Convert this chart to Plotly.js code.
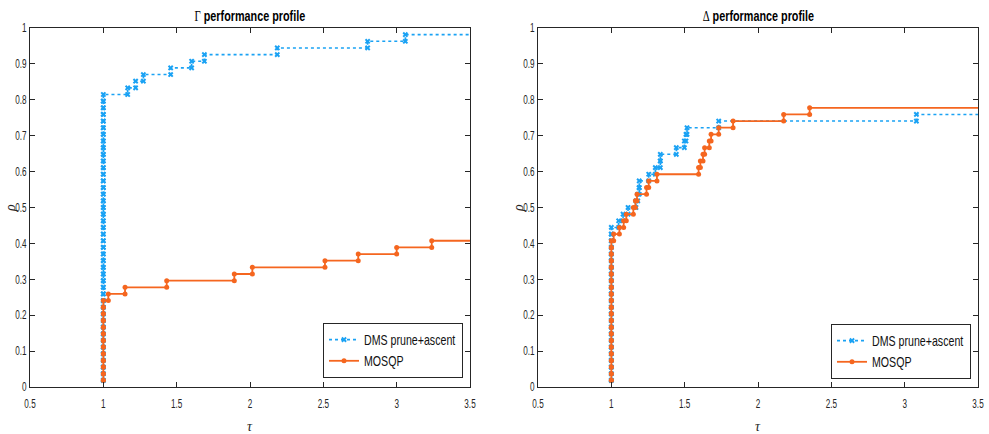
<!DOCTYPE html>
<html>
<head>
<meta charset="utf-8">
<script src="https://cdn.plot.ly/plotly-3.0.1.min.js"></script>
<style>
html,body{margin:0;padding:0;background:#fff;}
#chart{width:989px;height:434px;}
/* narrow (Helvetica-Narrow-like) legend text of the original */
#chart text.legendtext, #chart text.legend2text{transform-box:fill-box;transform-origin:0 50%;transform:scaleX(0.76);}
#chart g.legend rect.bg, #chart g.legend2 rect.bg{width:139px;}
</style>
</head>
<body>
<div id="chart"></div>
<script>
// ---------------- data ----------------
const nProblems = 54;
const seriesNames = ["DMS prune+ascent", "MOSQP"];
const panelTitles = ["Γ", "Δ"];
const xTicks = [0.5, 1, 1.5, 2, 2.5, 3, 3.5];
const yTicks = [0, 0.1, 0.2, 0.3, 0.4, 0.5, 0.6, 0.7, 0.8, 0.9, 1];
const tauEnd = 4; // right end of the last step (beyond the axis limit)

// Gamma profile: number of problems with ratio 1, then remaining sorted ratios <= 3.5
const gammaDmsAtOne = 44;
const gammaDmsRatios = [1.166, 1.220, 1.273, 1.459, 1.602, 1.689, 2.186, 2.802, 3.059];
const gammaMosqpAtOne = 13;
const gammaMosqpRatios = [1.034, 1.148, 1.432, 1.893, 2.016, 2.511, 2.738, 3.000, 3.239];

// Delta profile
const deltaDmsAtOne = 24;
const deltaDmsRatios = [1.050, 1.080, 1.114, 1.168, 1.180, 1.190, 1.190, 1.255, 1.300, 1.334, 1.334,
                        1.443, 1.498, 1.509, 1.516, 1.732, 3.080];
const deltaMosqpAtOne = 22;
const deltaMosqpRatios = [1.016, 1.055, 1.084, 1.102, 1.150, 1.164, 1.175, 1.240, 1.255, 1.311,
                          1.595, 1.607, 1.625, 1.636, 1.668, 1.680, 1.732, 1.830, 2.175, 2.352];

// ---------------- build stairs ----------------
function stairs(atOne, ratios) {
  const r = [];
  for (let i = 0; i < atOne; i++) r.push(1);
  ratios.forEach(v => r.push(v));
  const xs = [], ys = [];
  for (let i = 0; i < r.length; i++) {
    const y = (i + 1) / nProblems;
    xs.push(r[i]); ys.push(y);
    xs.push(i + 1 < r.length ? r[i + 1] : tauEnd); ys.push(y);
  }
  return {x: xs, y: ys};
}

const blue = '#1aa2f4';
const orange = '#f5661f';
const font = 'Liberation Sans, Arial, sans-serif';

function dmsTrace(d, xa, ya, lg) {
  return {x: d.x, y: d.y, xaxis: xa, yaxis: ya, type: 'scatter', mode: 'lines+markers',
    name: seriesNames[0], legend: lg, cliponaxis: true,
    line: {color: blue, width: 1.6, dash: 'dot'},
    marker: {symbol: 'x', size: 5, color: blue}};
}
function mosTrace(d, xa, ya, lg) {
  return {x: d.x, y: d.y, xaxis: xa, yaxis: ya, type: 'scatter', mode: 'lines+markers',
    name: seriesNames[1], legend: lg, cliponaxis: true,
    line: {color: orange, width: 1.8},
    marker: {symbol: 'circle', size: 5, color: orange}};
}

const traces = [
  dmsTrace(stairs(gammaDmsAtOne, gammaDmsRatios), 'x', 'y', 'legend'),
  mosTrace(stairs(gammaMosqpAtOne, gammaMosqpRatios), 'x', 'y', 'legend'),
  dmsTrace(stairs(deltaDmsAtOne, deltaDmsRatios), 'x2', 'y2', 'legend2'),
  mosTrace(stairs(deltaMosqpAtOne, deltaMosqpRatios), 'x2', 'y2', 'legend2')
];

function xaxis(dom, anchor) {
  return {domain: dom, anchor: anchor, range: [0.5, 3.5], tickvals: xTicks,
    ticktext: xTicks.map(String), ticks: 'inside', ticklen: 5, tickcolor: '#262626',
    showline: true, linecolor: '#262626', linewidth: 1, mirror: 'ticks', showgrid: false,
    zeroline: false, ticklabelstandoff: 6, tickfont: {family: font, size: 12, color: '#262626'}};
}
function yaxis(dom, anchor) {
  return {domain: dom, anchor: anchor, range: [0, 1], tickvals: yTicks,
    ticktext: yTicks.map(String), ticks: 'inside', ticklen: 5, tickcolor: '#262626',
    showline: true, linecolor: '#262626', linewidth: 1, mirror: 'ticks', showgrid: false,
    zeroline: false, tickfont: {family: font, size: 12, color: '#262626'}};
}

const W = 989, H = 434;
const ydom = [(H - 387) / H, (H - 28) / H];
function legendStyle() {
  return {bgcolor: '#fff', bordercolor: '#262626', borderwidth: 1,
    font: {family: font, size: 14, color: '#111'}, xanchor: 'left', yanchor: 'bottom',
    tracegroupgap: 0, itemwidth: 30};
}

const layout = {
  width: W, height: H, margin: {l: 0, r: 0, t: 0, b: 0, autoexpand: false},
  paper_bgcolor: '#fff', plot_bgcolor: '#fff', showlegend: true,
  xaxis: xaxis([30 / W, 470 / W], 'y'),
  yaxis: yaxis(ydom, 'x'),
  xaxis2: xaxis([538 / W, 978 / W], 'y2'),
  yaxis2: yaxis(ydom, 'x2'),
  legend: Object.assign({x: 323 / W, y: (H - 378) / H}, legendStyle()),
  legend2: Object.assign({x: 831 / W, y: (H - 379) / H}, legendStyle()),
  annotations: []
};

const centers = [250, 758];
const leftEdges = [30, 538];
panelTitles.forEach((g, i) => {
  layout.annotations.push({xref: 'paper', yref: 'paper', x: centers[i] / W, y: (H - 16) / H,
    xanchor: 'center', yanchor: 'middle', showarrow: false, name: 'title',
    text: '<span style="font-family:Liberation Serif;font-weight:normal">' + g + '</span> <b>performance profile</b>',
    font: {family: font, size: 15, color: '#000'}});
  layout.annotations.push({xref: 'paper', yref: 'paper', x: centers[i] / W, y: (H - 426) / H,
    xanchor: 'center', yanchor: 'middle', showarrow: false, text: '<i>τ</i>',
    font: {family: 'Liberation Serif, serif', size: 14, color: '#262626'}});
  layout.annotations.push({xref: 'paper', yref: 'paper', x: (leftEdges[i] - 20) / W, y: (H - 208) / H,
    xanchor: 'center', yanchor: 'middle', showarrow: false, text: '<i>ρ</i>', textangle: -90,
    font: {family: 'Liberation Serif, serif', size: 14, color: '#262626'}});
});

// narrow (Helvetica-Narrow-like) look of the original: compress glyphs horizontally
function squeeze(t, f) {
  if (t.getAttribute('data-sq')) return;
  const w = t.getComputedTextLength();
  if (!w) return;
  t.setAttribute('textLength', (w * f).toFixed(2));
  t.setAttribute('lengthAdjust', 'spacingAndGlyphs');
  t.setAttribute('data-sq', '1');
}

function narrowText(gd) {
  gd.querySelectorAll('.xtick text, .ytick text, .x2tick text, .y2tick text').forEach(t => squeeze(t, 0.68));
  gd.querySelectorAll('.annotation-text').forEach(t => {
    if (t.textContent.indexOf('performance') >= 0) squeeze(t, 0.72);
  });
}

Plotly.newPlot('chart', traces, layout, {staticPlot: true, displayModeBar: false}).then(gd => {
  narrowText(gd);
});
</script>
</body>
</html>
